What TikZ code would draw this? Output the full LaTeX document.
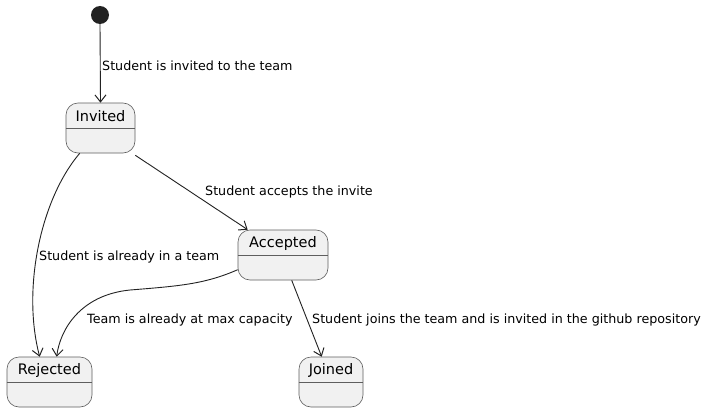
\documentclass[tikz,border=0pt]{standalone}
\usepackage{fontspec}
\setmainfont{DejaVu Sans}
\usetikzlibrary{arrows.meta,calc}
\definecolor{stfill}{HTML}{F1F1F1}
\definecolor{stline}{HTML}{5E5E5E}
\definecolor{dark}{HTML}{222222}
\begin{document}
\begin{tikzpicture}[x=1pt,y=-1pt,
  state/.style={draw=stline,fill=stfill,rounded corners=12pt,line width=0.6pt,minimum height=50pt,inner sep=0pt},
  statename/.style={font=\fontsize{14.5}{16}\selectfont,anchor=center,inner sep=0pt},
  lbl/.style={font=\fontsize{12.7}{15}\selectfont,anchor=west,inner sep=0pt},
  divider/.style={draw=stline,line width=0.6pt},
  conn/.style={draw=dark,line width=0.9pt,-{Straight Barb[length=7pt,width=11pt,line width=1pt]}}]
\useasboundingbox[fill=white] (0,0) rectangle (706,412);
% start
\node[circle,fill=dark,minimum size=18pt,inner sep=0pt] (start) at (100,15) {};
% states
\node[state,minimum width=69pt] (inv) at (100.5,128) {};
\node[state,minimum width=90pt] (acc) at (283,255) {};
\node[state,minimum width=85pt] (rej) at (49.5,382) {};
\node[state,minimum width=64pt] (joi) at (331,382) {};
\foreach \s in {inv,acc,rej,joi}{
  \draw[divider] ($(\s.north west)+(0,26)$) -- ($(\s.north east)+(0,26)$);
}
\node[statename] (invt) at ($(inv.north)+(0,13.5)$) {Invited};
\node[statename] (acct) at ($(acc.north)+(0,13.5)$) {Accepted};
\node[statename] (rejt) at ($(rej.north)+(0,13.5)$) {Rejected};
\node[statename] (joit) at ($(joi.north)+(0,13.5)$) {Joined};
% connectors
\draw[conn] (start.south) -- (inv.north);
\draw[conn] ($(inv.south east)+(0,2)$) -- ($(acc.north west)+(10,0)$);
\draw[conn] ($(inv.south west)+(14,0)$) .. controls (40,200) and (22,290) .. ($(rej.north west)+(33,0)$);
\draw[conn] ($(acc.north west)+(0,40)$) .. controls (205,284) and (180,286) .. (130,290) .. controls (80,295) and (60,330) .. ($(rej.north west)+(50,0)$);
\draw[conn] ($(acc.south west)+(54,0)$) -- ($(joi.north west)+(23,0)$);
% labels
\node[lbl] (l1) at (102,65.5) {Student is invited to the team};
\node[lbl] (l2) at (205,191.5) {Student accepts the invite};
\node[lbl] (l3) at (39,256.5) {Student is already in a team};
\node[lbl] (l4) at (87,319.5) {Team is already at max capacity};
\node[lbl] (l5) at (312,319.5) {Student joins the team and is invited in the github repository};
\end{tikzpicture}
\end{document}
